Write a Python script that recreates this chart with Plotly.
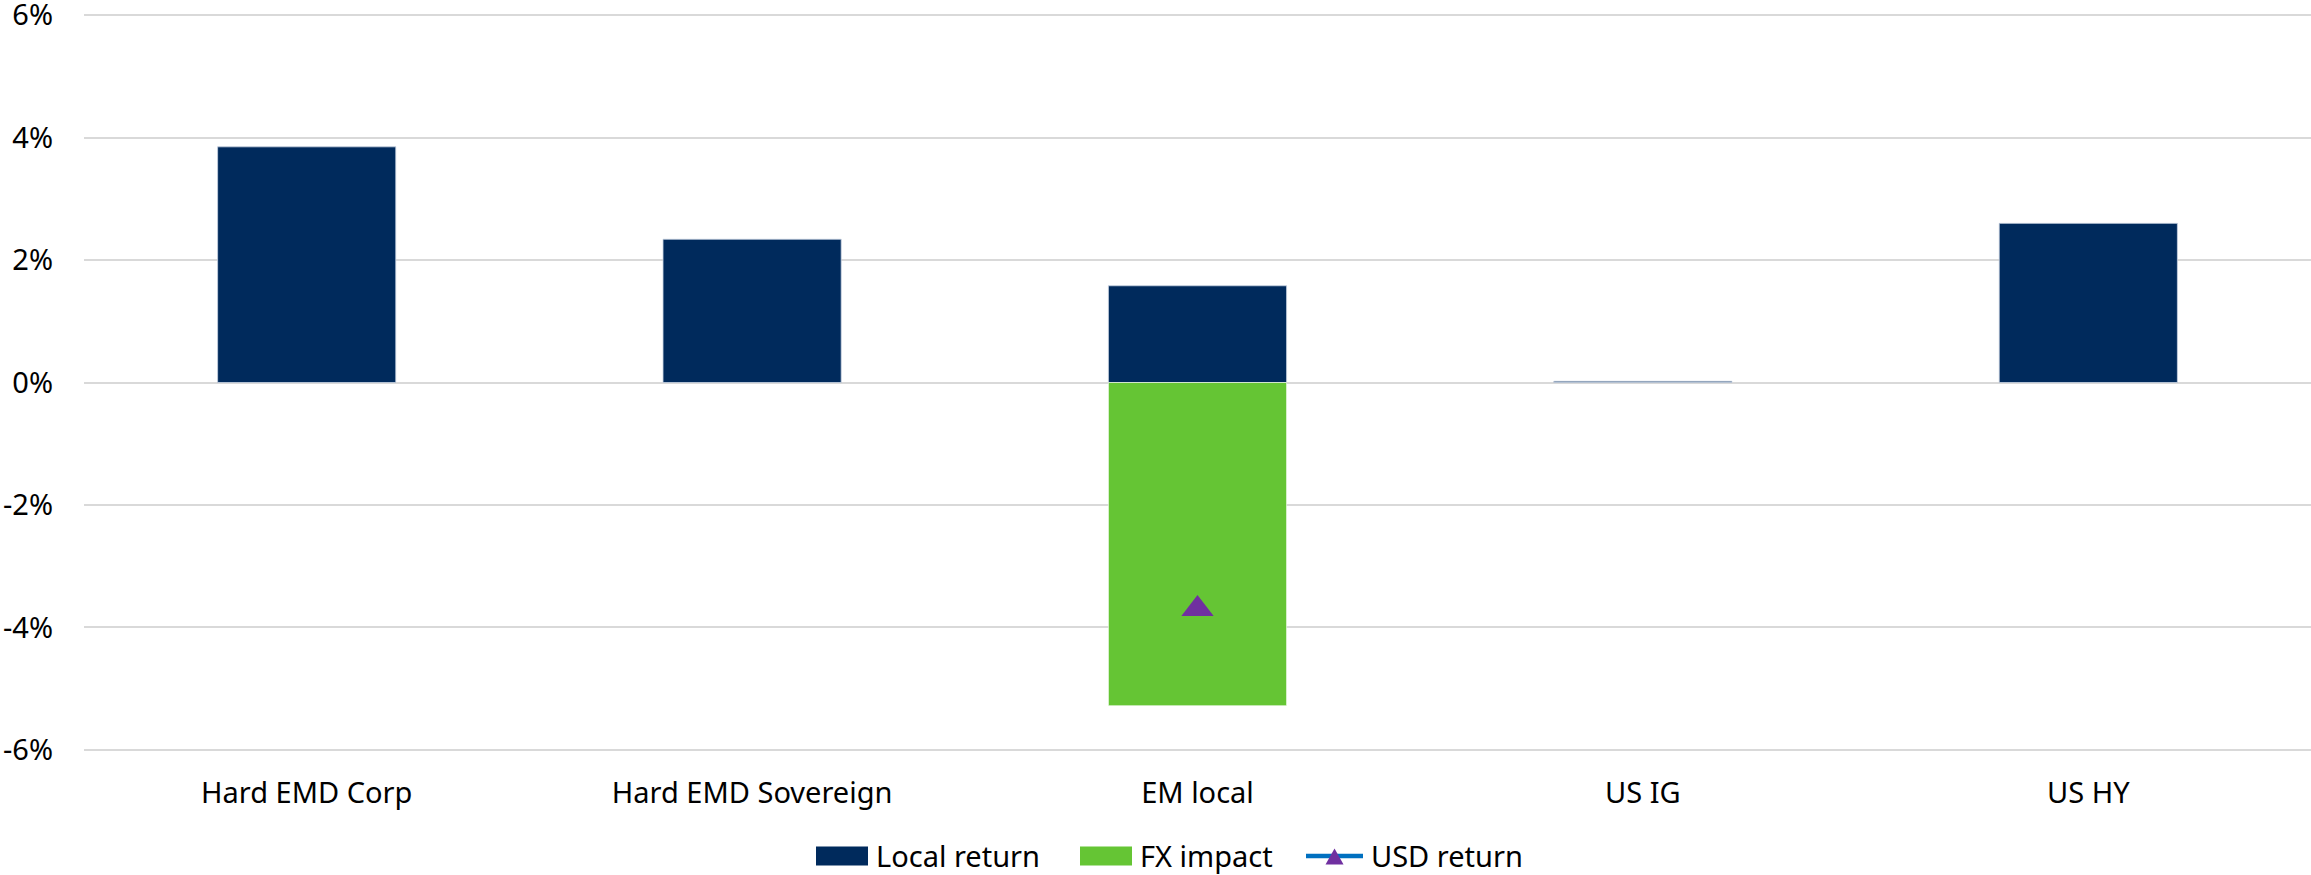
import plotly.graph_objects as go

# Returns by asset class (percent)
categories = ["Hard EMD Corp", "Hard EMD Sovereign", "EM local", "US IG", "US HY"]
local_return = [3.85, 2.34, 1.58, 0.02, 2.60]
fx_impact = [None, None, -5.28, None, None]
usd_return = [None, None, -3.70, None, None]

y_ticks = [-6, -4, -2, 0, 2, 4, 6]
y_tick_labels = ["-6%", "-4%", "-2%", "0%", "2%", "4%", "6%"]

NAVY = "#002A5C"
GREEN = "#65C534"
PURPLE = "#7030A0"
BLUE = "#0070C0"
FONT = "Noto Sans"
TEXT = "#000000"
FS = 29

W, H = 2311, 875
M_L, M_R, M_T, M_B = 84, 0, 14, 124
PW, PH = W - M_L - M_R, H - M_T - M_B


def px_x(x):
    return (x - M_L) / PW


def px_y(y):
    return (H - M_B - y) / PH


fig = go.Figure()
fig.add_trace(go.Bar(
    x=categories, y=local_return, name="Local return",
    marker=dict(color=NAVY, line=dict(color="rgba(200,210,225,0.8)", width=1)),
    showlegend=False,
))
fig.add_trace(go.Bar(
    x=categories, y=fx_impact, name="FX impact",
    marker=dict(color=GREEN, line=dict(color="rgba(255,255,255,0.6)", width=1)),
    showlegend=False,
))
fig.add_trace(go.Scatter(
    x=categories, y=usd_return, name="USD return", mode="lines+markers",
    line=dict(color=BLUE, width=3),
    marker=dict(symbol="triangle-up", size=28, color=PURPLE),
    showlegend=False,
))

# Legend drawn as swatches + labels below the plot
shapes = []
annotations = []
legend_y = 856
sw_h = 9.5
items = [
    ("rect", NAVY, 816, 868, 874, "Local return"),
    ("rect", GREEN, 1080, 1132, 1138, "FX impact"),
    ("line", BLUE, 1306, 1363, 1369, "USD return"),
]
for kind, color, x0, x1, tx, label in items:
    if kind == "rect":
        shapes.append(dict(
            type="rect", xref="paper", yref="paper",
            x0=px_x(x0), x1=px_x(x1), y0=px_y(legend_y + sw_h), y1=px_y(legend_y - sw_h),
            fillcolor=color, line=dict(width=0),
        ))
    else:
        shapes.append(dict(
            type="line", xref="paper", yref="paper",
            x0=px_x(x0), x1=px_x(x1), y0=px_y(legend_y), y1=px_y(legend_y),
            line=dict(color=color, width=4.5),
        ))
        cx = (x0 + x1) / 2
        shapes.append(dict(
            type="path", xref="paper", yref="paper",
            path="M {a},{b} L {c},{d} L {e},{f} Z".format(
                a=px_x(cx - 9), b=px_y(legend_y + 8.5),
                c=px_x(cx + 9), d=px_y(legend_y + 8.5),
                e=px_x(cx), f=px_y(legend_y - 7.5),
            ),
            fillcolor=PURPLE, line=dict(width=0),
        ))
    annotations.append(dict(
        text=label, xref="paper", yref="paper", x=px_x(tx), y=px_y(legend_y),
        xanchor="left", yanchor="middle", showarrow=False,
        font=dict(family=FONT, size=FS, color=TEXT),
    ))

fig.update_layout(
    width=W, height=H,
    margin=dict(l=M_L, r=M_R, t=M_T, b=M_B, pad=0, autoexpand=False),
    paper_bgcolor="white", plot_bgcolor="white",
    barmode="relative", bargap=0.6,
    font=dict(family=FONT, size=FS, color=TEXT),
    showlegend=False,
    shapes=shapes, annotations=annotations,
    xaxis=dict(
        showgrid=False, showline=False, ticks="", zeroline=False,
        tickfont=dict(family=FONT, size=FS, color=TEXT),
        ticklabelstandoff=22, automargin=False,
    ),
    yaxis=dict(
        range=[-6.02, 6.02], tickvals=y_ticks, ticktext=y_tick_labels,
        showgrid=True, gridcolor="#d9d9d9", gridwidth=1.5,
        zeroline=True, zerolinecolor="#d9d9d9", zerolinewidth=1.5,
        showline=False, ticks="", ticklabelstandoff=30,
        ticklabeloverflow="allow", automargin=False,
        tickfont=dict(family=FONT, size=FS, color=TEXT),
    ),
)

fig.write_html("out.html")
